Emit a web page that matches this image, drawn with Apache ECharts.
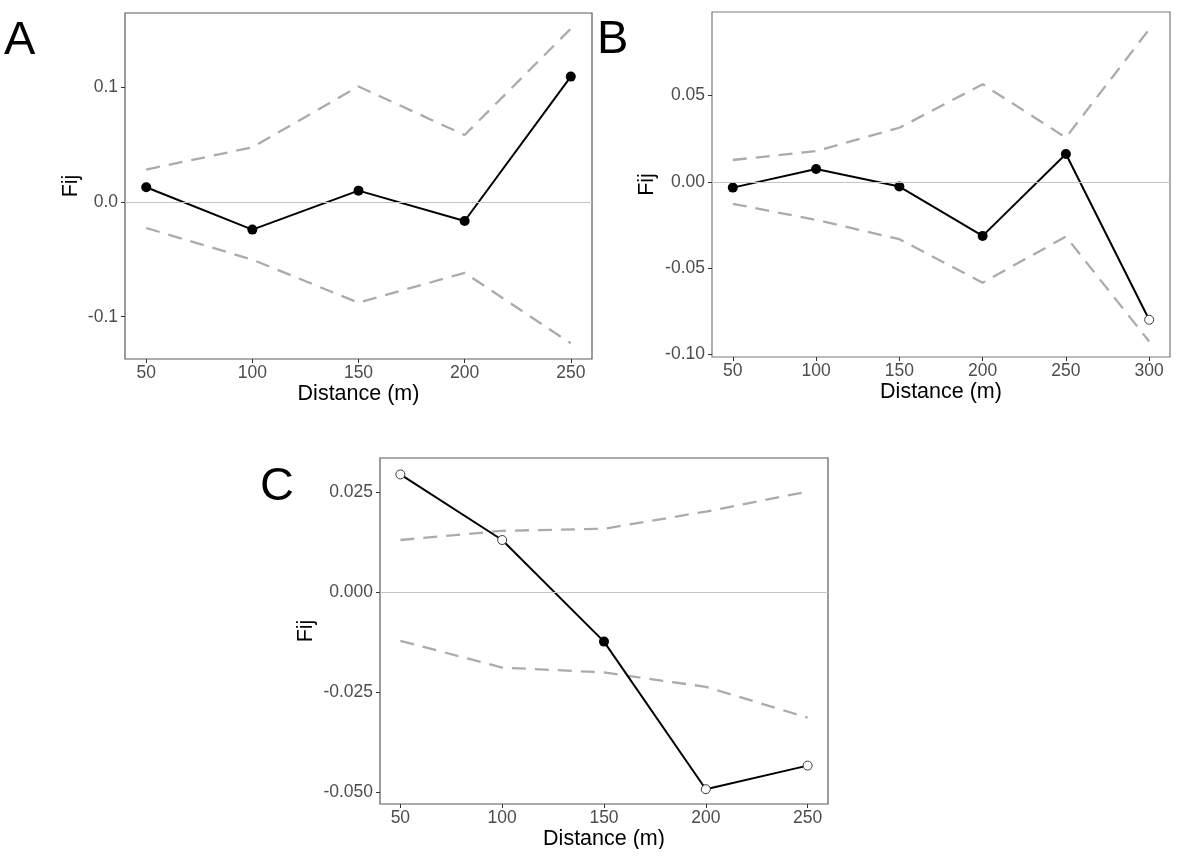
<!DOCTYPE html>
<html>
<head>
<meta charset="utf-8">
<script src="https://cdn.jsdelivr.net/npm/echarts@6/dist/echarts.min.js"></script>
<style>
html,body{margin:0;padding:0;background:#fff;}
#chart{width:1186px;height:863px;}
</style>
</head>
<body>
<div id="chart"></div>
<script>
// ---------- Data ----------
// Panel A
const distA = [50, 100, 150, 200, 250];
const fijA = [0.013, -0.024, 0.010, -0.0165, 0.1095];
const upperA = [0.0284, 0.0478, 0.1009, 0.0585, 0.1513];
const lowerA = [-0.0226, -0.0502, -0.0878, -0.0617, -0.1232];
const sigA = [true, true, true, true, true];
const yTicksA = [-0.1, 0, 0.1];
const yTickLabelsA = ['-0.1', '0.0', '0.1'];
const xTicksA = [50, 100, 150, 200, 250];

// Panel B
const distB = [50, 100, 150, 200, 250, 300];
const fijB = [-0.0033, 0.0075, -0.0027, -0.0313, 0.0162, -0.0799];
const upperB = [0.0127, 0.0179, 0.0314, 0.0566, 0.0257, 0.0885];
const lowerB = [-0.0127, -0.022, -0.0332, -0.0584, -0.0317, -0.0925];
const sigB = [true, true, true, true, true, false];
const yTicksB = [-0.1, -0.05, 0, 0.05];
const yTickLabelsB = ['-0.10', '-0.05', '0.00', '0.05'];
const xTicksB = [50, 100, 150, 200, 250, 300];

// Panel C
const distC = [50, 100, 150, 200, 250];
const fijC = [0.0294, 0.013, -0.0124, -0.0493, -0.0434];
const upperC = [0.013, 0.0153, 0.0158, 0.0201, 0.0251];
const lowerC = [-0.0122, -0.0189, -0.0201, -0.0237, -0.0314];
const sigC = [false, false, true, false, false];
const yTicksC = [-0.05, -0.025, 0, 0.025];
const yTickLabelsC = ['-0.050', '-0.025', '0.000', '0.025'];
const xTicksC = [50, 100, 150, 200, 250];

const panelLetters = ['A', 'B', 'C'];
const xTitle = 'Distance (m)';
const yTitle = 'Fij';

// ---------- Layout / style ----------
const FONT = "'Liberation Sans', Arial, sans-serif";
const panels = [
  {dist: distA, fij: fijA, up: upperA, lo: lowerA, sig: sigA, yTicks: yTicksA, yLabels: yTickLabelsA, xTicks: xTicksA,
   grid: {left: 125, top: 13, width: 467, height: 346}, xMin: 40, xMax: 260, yMin: -0.1369, yMax: 0.165, yGap: 43, frame: '#5a5a5a'},
  {dist: distB, fij: fijB, up: upperB, lo: lowerB, sig: sigB, yTicks: yTicksB, yLabels: yTickLabelsB, xTicks: xTicksB,
   grid: {left: 712, top: 12, width: 458, height: 345}, xMin: 37.5, xMax: 312.5, yMin: -0.1015, yMax: 0.0985, yGap: 54, frame: '#7a7a7a'},
  {dist: distC, fij: fijC, up: upperC, lo: lowerC, sig: sigC, yTicks: yTicksC, yLabels: yTickLabelsC, xTicks: xTicksC,
   grid: {left: 380, top: 458, width: 448, height: 346}, xMin: 40, xMax: 260, yMin: -0.053, yMax: 0.0335, yGap: 63, frame: '#5a5a5a'}
];

const grids = [], xAxes = [], yAxes = [], series = [];
panels.forEach((p, i) => {
  grids.push(Object.assign({show: true, borderColor: p.frame, borderWidth: 1.2, backgroundColor: '#fff'}, p.grid));
  xAxes.push({
    type: 'value', gridIndex: i, min: p.xMin, max: p.xMax,
    name: xTitle, nameLocation: 'middle', nameGap: 24,
    nameTextStyle: {fontFamily: FONT, fontSize: 21.5, color: '#000'},
    axisLine: {show: false, onZero: false},
    splitLine: {show: false},
    axisTick: {show: true, length: 4, lineStyle: {color: '#333'}, customValues: p.xTicks},
    axisLabel: {fontFamily: FONT, fontSize: 17.5, color: '#4d4d4d', margin: 5, customValues: p.xTicks}
  });
  yAxes.push({
    type: 'value', gridIndex: i, min: p.yMin, max: p.yMax,
    name: yTitle, nameLocation: 'middle', nameGap: p.yGap, nameRotate: 90,
    nameTextStyle: {fontFamily: FONT, fontSize: 21.5, color: '#000'},
    axisLine: {show: false, onZero: false},
    splitLine: {show: false},
    axisTick: {show: true, length: 4, lineStyle: {color: '#333'}, customValues: p.yTicks},
    axisLabel: {fontFamily: FONT, fontSize: 17.5, color: '#4d4d4d', margin: 7, customValues: p.yTicks,
      formatter: v => {
        const k = p.yTicks.findIndex(t => Math.abs(t - v) < 1e-9);
        return k >= 0 ? p.yLabels[k] : '';
      }}
  });
  const dashStyle = {color: '#ababab', width: 2.3, type: [14, 9]};
  series.push({
    type: 'line', xAxisIndex: i, yAxisIndex: i, symbol: 'none', silent: true, z: 2,
    data: p.dist.map((d, k) => [d, p.up[k]]), lineStyle: dashStyle,
    markLine: {silent: true, symbol: 'none', label: {show: false},
      lineStyle: {color: '#c4c4c4', width: 1, type: 'solid'}, data: [{yAxis: 0}]}
  });
  series.push({
    type: 'line', xAxisIndex: i, yAxisIndex: i, symbol: 'none', silent: true, z: 2,
    data: p.dist.map((d, k) => [d, p.lo[k]]), lineStyle: dashStyle
  });
  series.push({
    type: 'line', xAxisIndex: i, yAxisIndex: i, z: 3,
    symbol: 'circle',
    lineStyle: {color: '#000', width: 2},
    data: p.dist.map((d, k) => ({
      value: [d, p.fij[k]],
      symbolSize: p.sig[k] ? 10 : 9,
      itemStyle: p.sig[k]
        ? {color: '#000', borderColor: '#000', borderWidth: 0}
        : {color: '#fff', borderColor: '#3a3a3a', borderWidth: 1}
    }))
  });
});

const letterPos = [{left: 4, top: 18}, {left: 597, top: 17}, {left: 260, top: 464}];
const graphic = panelLetters.map((t, i) => ({
  type: 'text', left: letterPos[i].left, top: letterPos[i].top, z: 100,
  style: {text: t, fontFamily: FONT, fontSize: 47, fill: '#000'}
}));
// bottom edge of the figure crops the last axis title
graphic.push({type: 'rect', left: 0, top: 849, z: 99, shape: {width: 1186, height: 14}, style: {fill: '#fff'}});

const chart = echarts.init(document.getElementById('chart'), null, {renderer: 'canvas'});
chart.setOption({
  animation: false,
  backgroundColor: '#fff',
  grid: grids,
  xAxis: xAxes,
  yAxis: yAxes,
  series: series,
  graphic: graphic
});
</script>
</body>
</html>
